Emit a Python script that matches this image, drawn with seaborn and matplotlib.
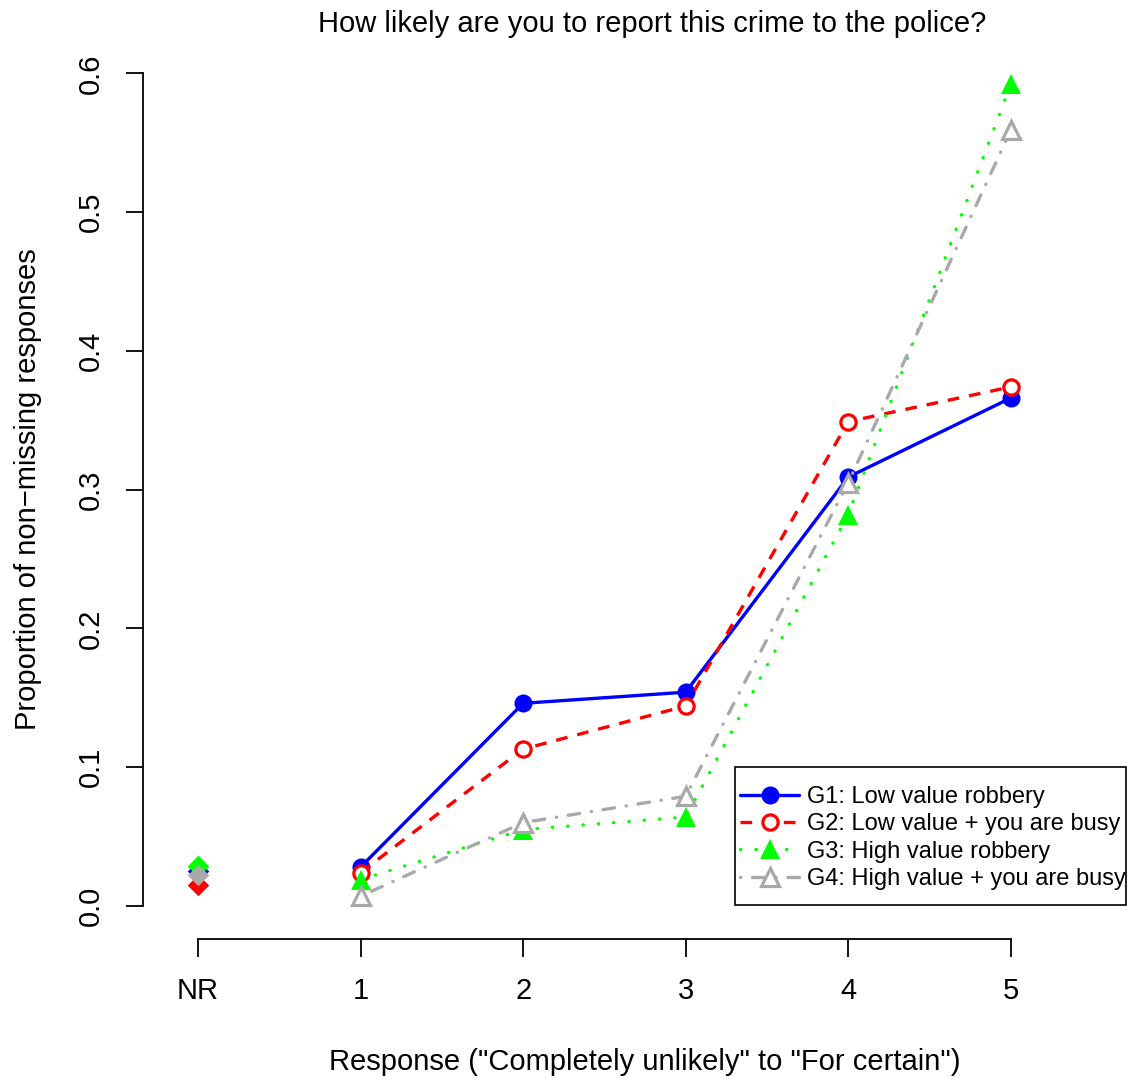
import numpy as np
import pandas as pd
import matplotlib
matplotlib.use("Agg")
import matplotlib.pyplot as plt
from matplotlib.patches import Rectangle
import seaborn as sns

# response categories (NR = no response, drawn at x=0)
categories = ["NR", "1", "2", "3", "4", "5"]
x_resp = [1, 2, 3, 4, 5]

groups = ["G1: Low value robbery",
          "G2: Low value + you are busy",
          "G3: High value robbery",
          "G4: High value + you are busy"]

# proportion of non-missing responses, categories 1..5
g1 = [0.028, 0.146, 0.154, 0.309, 0.366]
g2 = [0.024, 0.113, 0.144, 0.349, 0.374]
g3 = [0.019, 0.055, 0.064, 0.282, 0.592]
g4 = [0.007, 0.060, 0.079, 0.305, 0.559]
# share of non-response per group
nr = [0.025, 0.015, 0.029, 0.022]

colors = ["#0000FF", "#FF0000", "#00FF00", "#A9A9A9"]

df = pd.DataFrame({
    "x": x_resp * 4,
    "value": g1 + g2 + g3 + g4,
    "group": np.repeat(groups, 5),
})

sns.set_style("ticks")
plt.rcParams["font.family"] = ["Liberation Sans", "DejaVu Sans"]
plt.rcParams["text.color"] = "black"
plt.rcParams["axes.labelcolor"] = "black"

W, H = 1134, 1082
fig = plt.figure(figsize=(W / 100, H / 100), dpi=100)
ax = fig.add_axes([0.146, 0.132, 0.774, 0.831])

styles = [
    dict(linestyle="-", marker="o", markersize=13, markeredgewidth=0),
    dict(dashes=(3.5, 3), marker="o", markersize=11, markerfacecolor="white",
         markeredgewidth=2.3),
    dict(dashes=(0.1, 4.5), dash_capstyle="round", marker="^", markersize=14,
         markeredgewidth=0),
    dict(dashes=(0.1, 3.5, 3.5, 3.5), dash_capstyle="round", marker="^",
         markersize=13, markerfacecolor="white", markeredgewidth=2.3),
]

for g, c, st in zip(groups, colors, styles):
    sub = df[df["group"] == g]
    sns.lineplot(data=sub, x="x", y="value", color=c, linewidth=2.4,
                 label=g, ax=ax, markeredgecolor=c, **st)

# non-response diamonds
for v, c in zip(nr, colors):
    sns.scatterplot(x=[0], y=[v], color=c, marker="D", s=120, linewidth=0,
                    ax=ax, zorder=3)

ax.set_xlim(-0.2, 5.2)
ax.set_ylim(-0.024, 0.624)
ax.set_xticks(range(6))
ax.set_xticklabels(categories)
ax.set_yticks([0.0, 0.1, 0.2, 0.3, 0.4, 0.5, 0.6])
ax.set_yticklabels(["0.0", "0.1", "0.2", "0.3", "0.4", "0.5", "0.6"])

for side in ["top", "right"]:
    ax.spines[side].set_visible(False)
ax.spines["left"].set_position(("outward", 16))
ax.spines["left"].set_bounds(0, 0.6)
ax.spines["bottom"].set_bounds(0, 5)
for sp in ["left", "bottom"]:
    ax.spines[sp].set_linewidth(1.3)
    ax.spines[sp].set_color("black")

ax.tick_params(axis="both", width=1.3, labelsize=21, colors="black")
ax.tick_params(axis="x", length=13, pad=14)
ax.tick_params(axis="y", length=12, pad=16, labelrotation=90)
for lab in ax.get_yticklabels():
    lab.set_va("center")

ax.set_xlabel('Response ("Completely unlikely" to "For certain")',
              fontsize=21)
ax.xaxis.set_label_coords(0.546, -0.121)
ax.set_ylabel("Proportion of non\u2212missing responses", fontsize=21,
              labelpad=25)
ax.set_title("How likely are you to report this crime to the police?",
             fontsize=21, pad=6, x=0.554)

# legend text/handles, with an R-style box drawn around them
leg = ax.legend(loc="center left", bbox_to_anchor=(740 / W, 1 - 838 / H),
                bbox_transform=fig.transFigure, borderaxespad=0, borderpad=0,
                fontsize=17, frameon=False,
                handlelength=2.5, labelspacing=0.23, handletextpad=0.35)
fig.add_artist(Rectangle((735 / W, 1 - 905 / H), 391 / W, 138 / H,
                         transform=fig.transFigure, fill=False,
                         edgecolor="black", linewidth=1.2))

fig.savefig("out.png", dpi=100)
